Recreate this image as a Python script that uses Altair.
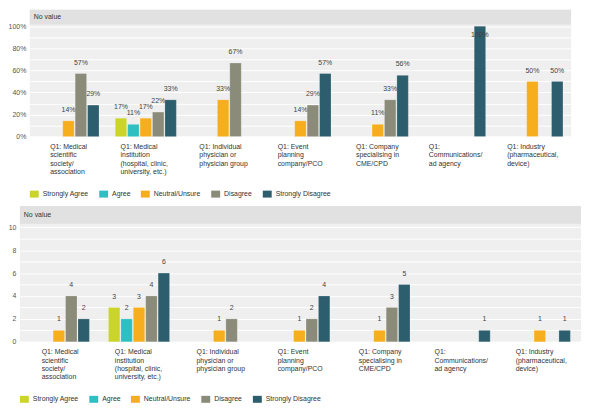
import altair as alt
import pandas as pd

# ---- data -------------------------------------------------------------
categories = [
    "Q1: Medical|scientific|society/|association",
    "Q1: Medical|institution|(hospital, clinic,|university, etc.)",
    "Q1: Individual|physician or|physician group",
    "Q1: Event|planning|company/PCO",
    "Q1: Company|specialising in|CME/CPD",
    "Q1:|Communications/|ad agency",
    "Q1: Industry|(pharmaceutical,|device)",
]
responses = ["Strongly Agree", "Agree", "Neutral/Unsure", "Disagree", "Strongly Disagree"]

strongly_agree = [0, 3, 0, 0, 0, 0, 0]
agree = [0, 2, 0, 0, 0, 0, 0]
neutral_unsure = [1, 3, 1, 1, 1, 0, 1]
disagree = [4, 4, 2, 2, 3, 0, 0]
strongly_disagree = [2, 6, 0, 4, 5, 1, 1]

header_text = "No value"

# ---- styles -----------------------------------------------------------
colors = ["#cbd42b", "#2fbfc3", "#f6ad1e", "#8b8b79", "#2d5e6d"]
label_half_width = [18.5, 25.5, 24, 23, 22, 26.5, 25.5]
FONT = "Liberation Sans"

series = [strongly_agree, agree, neutral_unsure, disagree, strongly_disagree]
rows = []
for resp, vals in zip(responses, series):
    for cat, v in zip(categories, vals):
        if v > 0:
            rows.append({"category": cat, "response": resp, "count": v})
df = pd.DataFrame(rows)

label_offset = {
    "condition": [
        {"test": f"datum.value === '{c}'", "value": -w}
        for c, w in zip(categories, label_half_width)
    ],
    "value": 0,
}

x_axis = alt.Axis(
    title=None, labelExpr="split(datum.label, '|')", labelAlign="left",
    labelBaseline="top", labelOffset=label_offset, labelLineHeight=8.5,
    labelPadding=6, labelAngle=0, domain=False, ticks=False, grid=False,
    labelFontSize=7, labelColor="#333333", labelLimit=0, labelOverlap=False,
)


def legend():
    return alt.Legend(
        orient="bottom", direction="horizontal", title=None,
        symbolType="M-1,-0.78H1V0.78H-1Z", symbolSize=81, symbolStrokeWidth=0,
        symbolOpacity=1, labelFontSize=7, labelColor="#333333", labelFont=FONT,
        columnPadding=10, labelOffset=4, offset=14,
    )


def panel(pct, width, height, ymax, header_h):
    base = alt.Chart(df)
    if pct:
        base = base.transform_joinaggregate(
            total="sum(count)", groupby=["category"]
        ).transform_calculate(
            val="datum.count / datum.total"
        ).transform_calculate(
            label_y="min(datum.val, 0.82)"
        )
        yvals = [i / 10 for i in range(11)]
        y_axis = alt.Axis(
            title=None, values=yvals, format=".0%",
            labelExpr="round(datum.value * 100) % 20 == 0 ? datum.label : ''",
            domain=False, ticks=False, gridColor="white", gridWidth=1,
            labelFontSize=7, labelColor="#555555", labelPadding=4,
            labelOverlap=False,
        )
        text_enc = alt.Text("val:Q", format=".0%")
    else:
        base = base.transform_calculate(val="datum.count", label_y="datum.count")
        yvals = list(range(11))
        y_axis = alt.Axis(
            title=None, values=yvals,
            labelExpr="datum.value % 2 == 0 ? datum.label : ''",
            domain=False, ticks=False, gridColor="white", gridWidth=1,
            labelFontSize=7, labelColor="#555555", labelPadding=4,
            labelOverlap=False,
        )
        text_enc = alt.Text("val:Q", format="d")

    x_enc = alt.X(
        "category:N", sort=categories, axis=x_axis,
        scale=alt.Scale(domain=categories, paddingInner=0.21, paddingOuter=0.105),
    )
    xo_enc = alt.XOffset(
        "response:N", sort=responses,
        scale=alt.Scale(domain=responses, paddingInner=0.08),
    )
    y_scale = alt.Scale(domain=[0, ymax], nice=False, zero=True)

    bars = base.mark_bar(stroke="white", strokeWidth=0.4, strokeOpacity=0.5).encode(
        x=x_enc,
        xOffset=xo_enc,
        y=alt.Y("val:Q", scale=y_scale, axis=y_axis),
        color=alt.Color(
            "response:N", sort=responses,
            scale=alt.Scale(domain=responses, range=colors), legend=legend(),
        ),
    )
    labels = base.mark_text(
        baseline="bottom", dy=-8, fontSize=7, color="#444444", font=FONT
    ).encode(
        x=x_enc,
        xOffset=xo_enc,
        y=alt.Y("label_y:Q", scale=y_scale, axis=y_axis),
        text=text_enc,
    )
    hdr = alt.Chart(pd.DataFrame({"h": [header_text]}))
    hdr_rect = hdr.mark_rect(color="#e1e1e1").encode(
        x=alt.value(0), x2=alt.value(width), y=alt.value(0), y2=alt.value(header_h)
    )
    hdr_text = hdr.mark_text(
        align="left", baseline="middle", fontSize=7, color="#333333", font=FONT
    ).encode(x=alt.value(4), y=alt.value(header_h / 2), text="h:N")

    return alt.layer(hdr_rect, bars, labels, hdr_text).properties(
        width=width, height=height
    )


top = panel(True, 546, 128, 1.15, 15)
bottom = panel(False, 566, 137, 11.85, 18)

chart = (
    alt.vconcat(top, bottom, spacing=8, center=True, padding=0)
    .resolve_legend(color="independent")
    .configure(font=FONT)
    .configure_view(fill="#efefef", strokeWidth=0)
)

chart.save("out.html", embed_options={"renderer": "svg", "actions": False})
